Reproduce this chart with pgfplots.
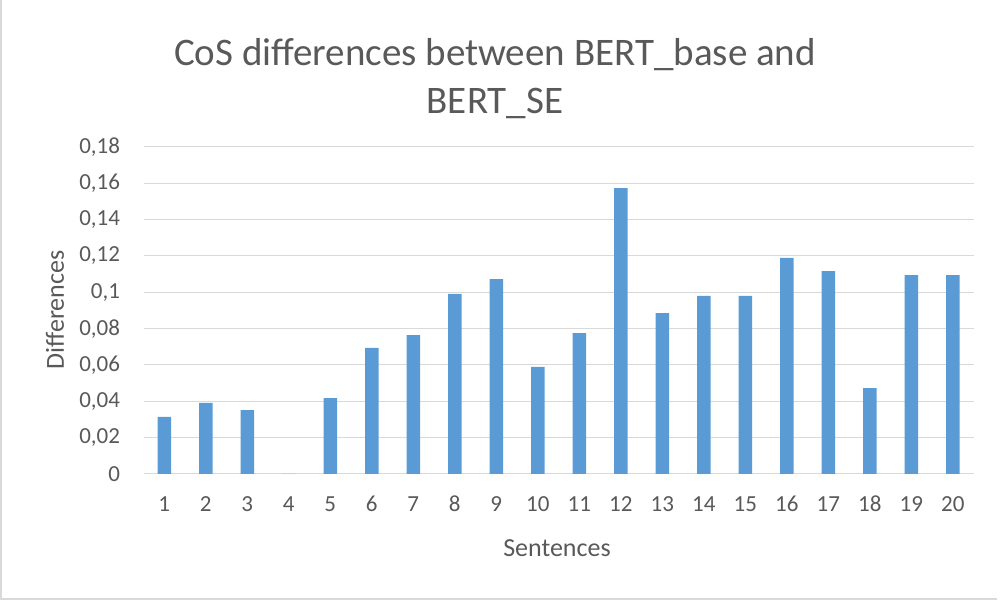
\documentclass[border=0pt]{standalone}
\usepackage{pgfplots}
\pgfplotsset{compat=1.18}
\usepackage{fontspec}
\setmainfont{Carlito}
\definecolor{txt}{HTML}{595959}
\definecolor{gridc}{HTML}{D9D9D9}
\definecolor{barc}{HTML}{5B9BD5}
\begin{document}
\begin{tikzpicture}[x=1pt,y=1pt]
\path[use as bounding box] (0,0) rectangle (1005,600);
\draw[gridc, line width=1.5pt] (1,600) -- (1,1) -- (997,1);
\begin{axis}[
  at={(143.5pt,126pt)}, anchor=south west,
  scale only axis, width=830pt, height=327pt,
  xmin=0.5, xmax=20.5, ymin=0, ymax=0.18,
  xtick={1,...,20},
  ytick={0,0.02,...,0.18},
  ymajorgrids, grid style={gridc, line width=1pt},
  axis line style={draw=none},
  major tick length=0pt,
  tick label style={font=\fontsize{23}{28}\selectfont, color=txt},
  /pgf/number format/assume math mode=true,
  /pgf/number format/use comma,
  /pgf/number format/fixed,
  /pgf/number format/precision=2,
  yticklabel style={xshift=-20pt},
  xticklabel style={anchor=base, yshift=-38pt},
  ybar, bar width=13.5pt,
]
\addplot[fill=barc, draw=none] coordinates {
(1,0.0314) (2,0.0391) (3,0.0352) (4,0) (5,0.0418) (6,0.0694) (7,0.0765) (8,0.0991) (9,0.1073) (10,0.0589) (11,0.0776) (12,0.1574) (13,0.0886) (14,0.0980) (15,0.0980) (16,0.1189) (17,0.1117) (18,0.0473) (19,0.1095) (20,0.1095)
};
\end{axis}
\node[color=txt, font=\fontsize{39}{48}\selectfont, align=center] at (495,521) {CoS differences between BERT\_base and\\BERT\_SE};
\node[color=txt, font=\fontsize{26}{30}\selectfont] at (557,52) {Sentences};
\node[color=txt, font=\fontsize{26}{30}\selectfont, rotate=90] at (55,290) {Differences};
\end{tikzpicture}
\end{document}
